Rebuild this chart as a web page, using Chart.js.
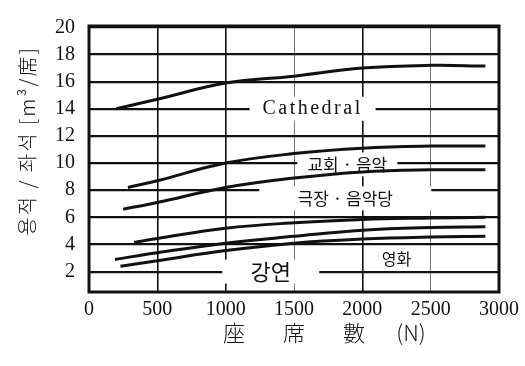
<!DOCTYPE html>
<html>
<head>
<meta charset="utf-8">
<script src="https://cdn.jsdelivr.net/npm/chart.js@4.4.1/dist/chart.umd.min.js"></script>
<style>
  body { margin: 0; background: #fff; }
</style>
</head>
<body>
<canvas id="seatChart" width="525" height="366"></canvas>
<script>
// axis ticks
const xTicks = [0, 500, 1000, 1500, 2000, 2500, 3000];
const yTicks = [2, 4, 6, 8, 10, 12, 14, 16, 18, 20];

// curves (seats N -> volume per seat)
const cathedralN = [200, 500, 1000, 1500, 2000, 2500, 2900];
const cathedralV = [14.0, 14.7, 15.9, 16.4, 17.0, 17.2, 17.15];
const churchTopN = [285, 500, 1000, 1500, 2000, 2500, 2900];
const churchTopV = [8.2, 8.7, 10.0, 10.7, 11.1, 11.25, 11.25];
const theaterTopN = [250, 500, 1000, 1500, 2000, 2500, 2900];
const theaterTopV = [6.6, 7.1, 8.2, 8.9, 9.35, 9.5, 9.5];
const lowerAN = [330, 500, 1000, 1500, 2000, 2500, 2900];
const lowerAV = [4.15, 4.45, 5.2, 5.6, 5.85, 5.95, 6.0];
const lowerBN = [190, 500, 1000, 1500, 2000, 2500, 2900];
const lowerBV = [2.9, 3.4, 4.1, 4.6, 5.05, 5.25, 5.3];
const lowerCN = [230, 500, 1000, 1500, 2000, 2500, 2900];
const lowerCV = [2.4, 2.8, 3.55, 4.1, 4.4, 4.55, 4.6];

// band names written inside the grid
const bandText = ["Cathedral", "교회 · 음악", "극장 · 음악당", "강연", "영화"];
const bandN = [1636, 1890, 1875, 1330, 2250];
const bandV = [14, 9.9, 7.4, 2, 2.95];

const seriesN = [cathedralN, churchTopN, theaterTopN, lowerAN, lowerBN, lowerCN];
const seriesV = [cathedralV, churchTopV, theaterTopV, lowerAV, lowerBV, lowerCV];

const datasets = seriesN.map((ns, i) => ({
    data: ns.map((n, j) => ({ x: n, y: seriesV[i][j] })),
    borderColor: "#111",
    borderWidth: 3,
    pointRadius: 0,
    fill: false,
    tension: 0.4
}));

const bandStyle = [
    { font: "20px 'Liberation Serif'", spacing: "2.5px", gap: 126 },
    { font: "17px 'Noto Sans CJK KR'", spacing: "0px", gap: 100 },
    { font: "17px 'Noto Sans CJK KR'", spacing: "0px", gap: 172 },
    { font: "22px 'Noto Sans CJK KR'", spacing: "0px", gap: 97 },
    { font: "16px 'Noto Sans CJK KR'", spacing: "0px", gap: 40 }
];

// x title pieces, spread like the original
const xTitleParts = ["座", "席", "數", "(N)"];
const xTitleCenters = [234, 294, 354, 411];

const chartText = {
    id: "chartText",
    beforeDatasetsDraw(chart) {
        const ctx = chart.ctx;
        const xs = chart.scales.x, ys = chart.scales.y;
        bandText.forEach((t, i) => {
            const px = xs.getPixelForValue(bandN[i]);
            const py = ys.getPixelForValue(bandV[i]);
            const st = bandStyle[i];
            ctx.save();
            ctx.fillStyle = "#fff";
            ctx.fillRect(px - st.gap / 2, py - 12, st.gap, 24);
            ctx.font = st.font;
            ctx.letterSpacing = st.spacing;
            ctx.fillStyle = "#111";
            ctx.textAlign = "center";
            ctx.textBaseline = "middle";
            ctx.fillText(t, px, py);
            ctx.restore();
        });
    },
    afterDraw(chart) {
        const ctx = chart.ctx;
        const a = chart.chartArea;
        ctx.save();
        ctx.strokeStyle = "#111";
        ctx.lineWidth = 3;
        ctx.strokeRect(a.left, a.top, a.right - a.left, a.bottom - a.top);

        ctx.fillStyle = "#111";
        ctx.textAlign = "center";
        ctx.textBaseline = "middle";
        ctx.font = "300 22px 'Noto Sans CJK JP'";
        xTitleParts.forEach((p, i) => ctx.fillText(p, xTitleCenters[i], 333));

        ctx.translate(27, 141);
        ctx.rotate(-Math.PI / 2);
        ctx.font = "300 20px 'Noto Sans CJK KR'";
        ctx.letterSpacing = "2px";
        ctx.fillText("용적 / 좌석 [m³/席]", 0, 0);
        ctx.restore();
    }
};

new Chart(document.getElementById("seatChart"), {
    type: "line",
    data: { datasets },
    options: {
        responsive: false,
        animation: false,
        layout: { padding: { top: 12, right: 18, left: 0, bottom: 0 } },
        plugins: { legend: { display: false }, tooltip: { enabled: false } },
        scales: {
            x: {
                type: "linear",
                min: 0,
                max: 3000,
                afterBuildTicks: s => { s.ticks = xTicks.map(v => ({ value: v })); },
                afterFit: s => { s.height = 74; },
                ticks: {
                    color: "#111",
                    padding: 6,
                    maxRotation: 0,
                    callback: v => String(v),
                    font: { family: "Liberation Serif", size: 20 }
                },
                grid: {
                    drawTicks: false,
                    color: c => (c.tick && (c.tick.value === 1500 || c.tick.value === 2500)) ? "#777" : "#111",
                    lineWidth: c => (c.tick && (c.tick.value === 1500 || c.tick.value === 2500)) ? 1 : 1.6
                },
                border: { display: false }
            },
            y: {
                min: 0.5,
                max: 20.1,
                afterBuildTicks: s => { s.ticks = yTicks.map(v => ({ value: v })); },
                afterFit: s => { s.width = 89; },
                ticks: {
                    color: "#111",
                    padding: 14,
                    font: { family: "Liberation Serif", size: 20 }
                },
                grid: { drawTicks: false, color: "#111", lineWidth: 2.2 },
                border: { display: false }
            }
        }
    },
    plugins: [chartText]
});
</script>
</body>
</html>
